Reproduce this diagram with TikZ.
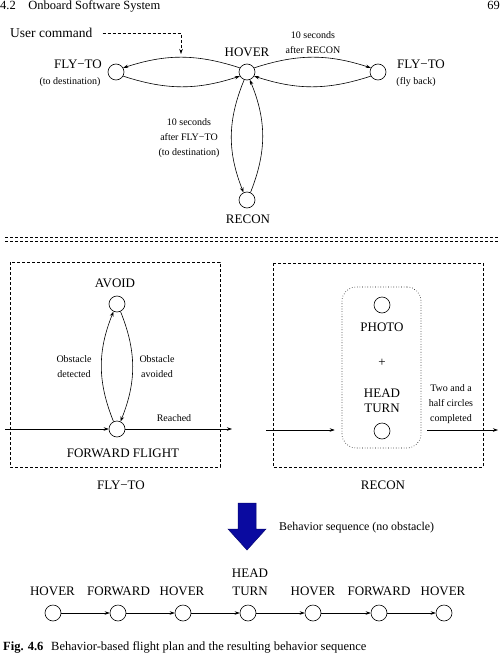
\documentclass[tikz,border=0pt]{standalone}
\usepackage{fontspec}
\setmainfont{Liberation Serif}
\usetikzlibrary{arrows.meta}
\definecolor{navy}{RGB}{10,10,160}
\begin{document}
\begin{tikzpicture}[x=1pt,y=-1pt,
  st/.style={circle,draw,minimum size=16pt,inner sep=0pt,line width=0.6pt},
  big/.style={font=\fontsize{13}{15}\selectfont,inner sep=0pt},
  small/.style={font=\fontsize{10}{15}\selectfont,align=center,inner sep=0pt},
  arr/.style={-{Stealth[length=5pt,width=3.5pt]},line width=0.6pt},
  dbox/.style={draw,dash pattern=on 3pt off 2pt,line width=0.6pt}
]
\useasboundingbox (0,0) rectangle (500,666);
% header
\node[anchor=base west,font=\fontsize{12.5}{14}\selectfont,inner sep=0pt] (hdr) at (0,10) {4.2\quad Onboard Software System};
\node[anchor=base east,font=\fontsize{12.5}{14}\selectfont,inner sep=0pt] (pg) at (500,10) {69};
% top state machine
\node[st] (hover) at (247,72) {};
\node[st] (fl) at (116,72) {};
\node[st] (fr) at (378,72) {};
\node[st] (recon) at (247,200) {};
\node[big,anchor=base] (hoverl) at (247,57) {HOVER};
\node[big,anchor=base] (fll) at (78,69) {FLY−TO};
\node[small,anchor=base] (flsub) at (70,85) {(to destination)};
\node[big,anchor=base] (frl) at (421,69) {FLY−TO};
\node[small,anchor=base] (frsub) at (416,85) {(fly back)};
\node[big,anchor=base] (reconl) at (248,223) {RECON};
\node[small] (t1) at (313,43) {10 seconds\\after RECON};
\node[small] (t2) at (189,138) {10 seconds\\after FLY−TO\\(to destination)};
\node[font=\fontsize{13.5}{15}\selectfont,inner sep=0pt,anchor=base west] (uc) at (10,38) {User command};
\coordinate (ucend) at (181,54);
\draw[arr,dash pattern=on 3pt off 2pt] ([xshift=10pt]uc.east) -| (ucend);
\draw[arr] (hover.150) to[bend right=18] (fl.30);
\draw[arr] (fl.-30) to[bend right=18] (hover.210);
\draw[arr] (hover.30) to[bend left=18] (fr.150);
\draw[arr] (fr.210) to[bend left=18] (hover.-30);
\draw[arr] (hover.250) to[bend right=22] (recon.115);
\draw[arr] (recon.65) to[bend right=22] (hover.290);
% separator
\draw[dash pattern=on 3pt off 2pt,line width=0.5pt] (5,237) -- (500,237);
\draw[dash pattern=on 3pt off 2pt,line width=0.5pt] (5,241) -- (500,241);
% left box FLY-TO
\draw[dbox] (10,262) rectangle (220,467);
\node[st] (avoid) at (117,304) {};
\node[st] (fwd) at (117,429) {};
\node[big,anchor=base] (avoidl) at (115,287) {AVOID};
\node[big,anchor=base] (fwdl) at (123,457) {FORWARD FLIGHT};
\node[small] (od) at (74,367) {Obstacle\\detected};
\node[small] (oa) at (157,367) {Obstacle\\avoided};
\node[small,anchor=base] (reached) at (174,421) {Reached};
\coordinate (inL) at (5,429);
\coordinate (outL) at (232,429);
\draw[arr] (inL) -- (fwd);
\draw[arr] (fwd) -- (outL);
\draw[arr] (fwd.115) to[bend left=22] (avoid.245);
\draw[arr] (avoid.295) to[bend left=22] (fwd.65);
\node[big,anchor=base] (flytol) at (121,489) {FLY−TO};
% right box RECON
\draw[dbox] (273,263) rectangle (483,467);
\node[draw,dotted,line width=0.6pt,rounded corners=14pt,minimum width=79pt,minimum height=161pt,inner sep=0pt] (grp) at (381.5,367.5) {};
\node[st] (photo) at (382,305) {};
\node[st] (turn) at (382,431) {};
\node[big,anchor=base] (photol) at (382,331) {PHOTO};
\node[big,anchor=base] (plus) at (382,366) {+};
\node[big,anchor=base] (headl) at (382,397) {HEAD};
\node[big,anchor=base] (turnl) at (382,412) {TURN};
\coordinate (inR) at (266,430);
\coordinate (outR) at (498,430);
\draw[arr,shorten >=7pt] (inR) -- (inR -| grp.west);
\draw[arr,shorten <=6pt] (outR -| grp.east) -- (outR);
\node[small] (twohalf) at (451,404) {Two and a\\half circles\\completed};
\node[big,anchor=base] (reconl2) at (383,489) {RECON};
% blue arrow
\draw[fill=navy,draw=navy!70!black,line width=0.5pt] (238,503) -- (256,503) -- (256,529) -- (266,529) -- (247,550) -- (228,529) -- (238,529) -- cycle;
\node[anchor=base west,font=\fontsize{11.9}{13}\selectfont,inner sep=0pt] (bs) at (279,530) {Behavior sequence (no obstacle)};
% bottom sequence
\foreach \i/\x in {1/53,2/118,3/183,4/248,5/313,6/379,7/444} {
  \node[st] (b\i) at (\x,613) {};
}
\node[big,anchor=base] (bl1) at (52.5,595) {HOVER};
\node[big,anchor=base] (bl2) at (118.5,595) {FORWARD};
\node[big,anchor=base] (bl3) at (182,595) {HOVER};
\node[big,anchor=base] (bl4a) at (250,577) {HEAD};
\node[big,anchor=base] (bl4) at (250,595) {TURN};
\node[big,anchor=base] (bl5) at (313,595) {HOVER};
\node[big,anchor=base] (bl6) at (379,595) {FORWARD};
\node[big,anchor=base] (bl7) at (443,595) {HOVER};
\foreach \a/\b in {1/2,2/3,3/4,4/5,5/6,6/7} {
  \draw[arr] (b\a) -- (b\b);
}
% caption
\node[anchor=base west,font=\fontsize{12.5}{14}\selectfont\bfseries,inner sep=0pt] (figl) at (3,650) {Fig. 4.6};
\node[anchor=base west,font=\fontsize{12.5}{14}\selectfont,inner sep=0pt] (cap) at (51,650) {Behavior-based flight plan and the resulting behavior sequence};
\end{tikzpicture}
\end{document}
